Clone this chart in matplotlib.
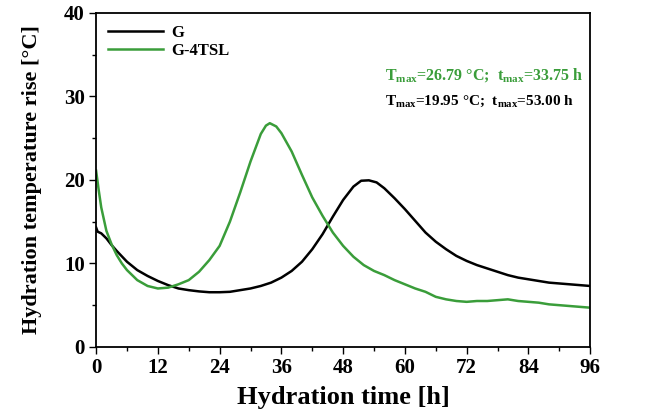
import matplotlib
matplotlib.use("Agg")
import matplotlib.pyplot as plt
from matplotlib.ticker import MultipleLocator

# Hydration temperature rise curves
time_g4tsl = [0, 0.5, 1, 2, 3, 4, 5, 6, 8, 10, 12, 14, 16, 18, 20, 22, 24, 26, 28,
              30, 32, 33, 33.75, 35, 36, 38, 40, 42, 44, 46, 48, 50, 52, 54, 56, 58,
              60, 62, 64, 66, 68, 70, 72, 74, 76, 78, 80, 82, 84, 86, 88, 90, 92, 94, 96]
temp_g4tsl = [21.1, 18.8, 16.7, 13.9, 12.3, 11.0, 10.0, 9.2, 8.0, 7.3, 7.0, 7.1, 7.5,
              8.0, 9.0, 10.4, 12.1, 15.0, 18.5, 22.2, 25.5, 26.5, 26.79, 26.4, 25.6,
              23.4, 20.6, 17.9, 15.7, 13.7, 12.1, 10.8, 9.8, 9.1, 8.6, 8.0, 7.5, 7.0,
              6.6, 6.0, 5.7, 5.5, 5.4, 5.5, 5.5, 5.6, 5.7, 5.5, 5.4, 5.3, 5.1, 5.0,
              4.9, 4.8, 4.7]

time_g = [0, 0.3, 1, 2, 3, 4, 6, 8, 10, 12, 14, 16, 18, 20, 22, 24, 26, 28, 30, 32,
          34, 36, 38, 40, 42, 44, 46, 48, 50, 51.5, 53, 54.5, 56, 58, 60, 62, 64, 66,
          68, 70, 72, 74, 76, 78, 80, 82, 84, 86, 88, 90, 92, 94, 96]
temp_g = [14.3, 13.8, 13.6, 13.0, 12.2, 11.5, 10.2, 9.2, 8.5, 7.9, 7.4, 7.0, 6.8,
          6.65, 6.55, 6.55, 6.6, 6.8, 7.0, 7.3, 7.7, 8.3, 9.1, 10.2, 11.7, 13.5, 15.6,
          17.6, 19.2, 19.9, 19.95, 19.7, 19.0, 17.8, 16.5, 15.1, 13.7, 12.6, 11.7,
          10.9, 10.3, 9.8, 9.4, 9.0, 8.6, 8.3, 8.1, 7.9, 7.7, 7.6, 7.5, 7.4, 7.3]

x_ticks = [0, 12, 24, 36, 48, 60, 72, 84, 96]
y_ticks = [0, 10, 20, 30, 40]

GREEN = "#3a9d3a"

plt.rcParams["font.family"] = ["Liberation Serif", "Noto Sans CJK SC"]
plt.rcParams["mathtext.fontset"] = "custom"
plt.rcParams["mathtext.rm"] = "Liberation Serif:bold"
plt.rcParams["mathtext.bf"] = "Liberation Serif:bold"
plt.rcParams["mathtext.it"] = "Liberation Serif:bold"

fig = plt.figure(figsize=(6.45, 4.15), dpi=100)
ax = fig.add_axes([0.149, 0.164, 0.766, 0.805])

ax.plot(time_g, temp_g, color="black", lw=1.8, label="G")
ax.plot(time_g4tsl, temp_g4tsl, color=GREEN, lw=1.8, label="G-4TSL")

ax.set_xlim(0, 96)
ax.set_ylim(0, 40)
ax.set_xticks(x_ticks)
ax.set_yticks(y_ticks)
ax.xaxis.set_minor_locator(MultipleLocator(6))
ax.yaxis.set_minor_locator(MultipleLocator(5))
ax.tick_params(which="both", direction="out", top=False, right=False,
               labelsize=15, width=1.0)
ax.tick_params(which="major", length=5, pad=3)
ax.tick_params(which="minor", length=3)
for lbl in ax.get_xticklabels() + ax.get_yticklabels():
    lbl.set_fontweight("bold")
for sp in ax.spines.values():
    sp.set_linewidth(1.3)

ax.set_xlabel("Hydration time [h]", fontsize=19, fontweight="bold", labelpad=6)
ax.set_ylabel("Hydration temperature rise [\u00b0C]", fontsize=16,
              fontweight="bold", labelpad=16)

ax.legend(loc="upper left", frameon=False,
          prop={"weight": "bold", "size": 12}, handlelength=3.3,
          borderaxespad=0.3, labelspacing=0.15, handletextpad=0.5)

ax.text(0.585, 0.80,
        r"$\mathrm{T_{max}}$=26.79 °C;  $\mathrm{t_{max}}$=33.75 h",
        transform=ax.transAxes, color=GREEN, fontsize=11.5, fontweight="bold")
ax.text(0.585, 0.725,
        r"$\mathrm{T_{max}}$=19.95 °C;  $\mathrm{t_{max}}$=53.00 h",
        transform=ax.transAxes, color="black", fontsize=11, fontweight="bold")

fig.savefig("out.png", dpi=100)
